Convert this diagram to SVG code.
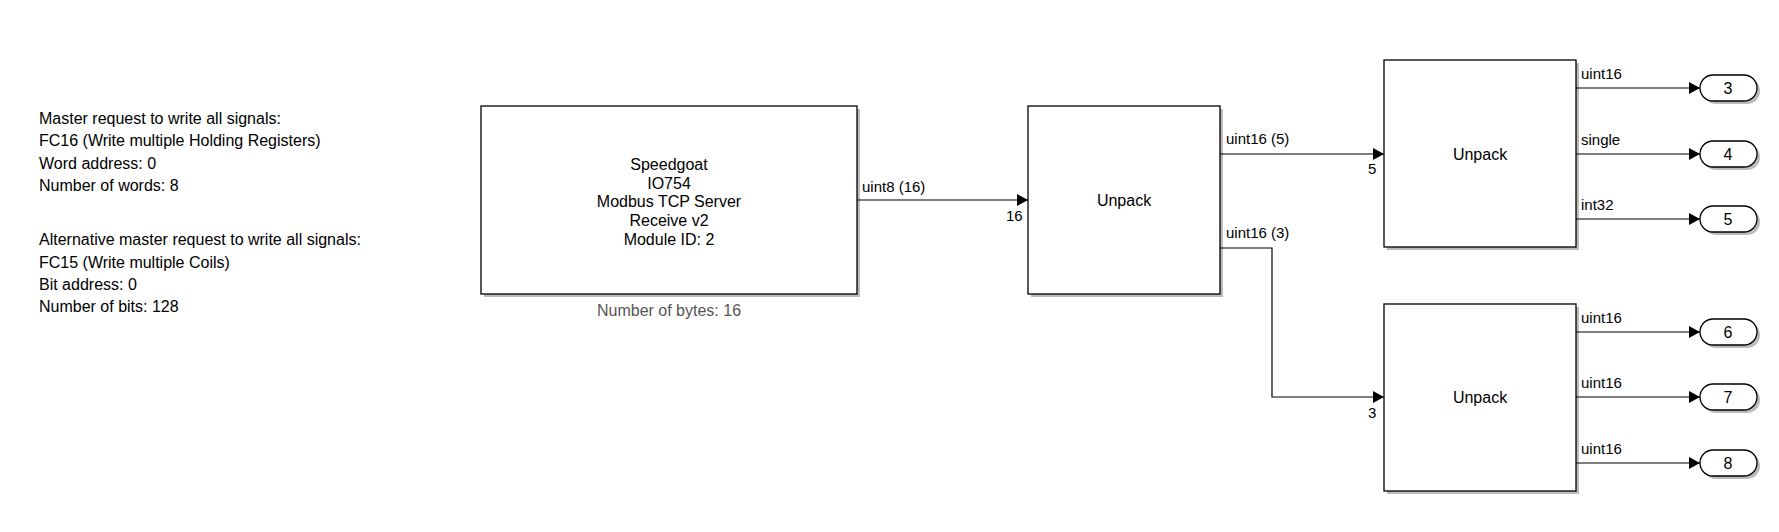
<svg xmlns="http://www.w3.org/2000/svg" width="1779" height="532" viewBox="0 0 1779 532">
<style>
text{font-family:"Liberation Sans",Arial,sans-serif;font-size:16px;fill:#000}
.blk{fill:#fff;stroke:#000;stroke-width:1.3}
.sh{fill:#bbb}
.c{text-anchor:middle}
.w{fill:none;stroke:#000;stroke-width:1.2}
.lb{font-size:15px}
</style>
<defs>
<marker id="ar" markerWidth="12" markerHeight="12" refX="11" refY="6" orient="auto" markerUnits="userSpaceOnUse">
<path d="M0,0 L11,6 L0,12 Z" fill="#000"/>
</marker>
</defs>
<rect width="1779" height="532" fill="#fff"/>
<g id="note">
<text x="39" y="124">Master request to write all signals:</text>
<text x="39" y="146">FC16 (Write multiple Holding Registers)</text>
<text x="39" y="169">Word address: 0</text>
<text x="39" y="191">Number of words: 8</text>
<text x="39" y="245">Alternative master request to write all signals:</text>
<text x="39" y="268">FC15 (Write multiple Coils)</text>
<text x="39" y="290">Bit address: 0</text>
<text x="39" y="312">Number of bits: 128</text>
</g>
<g id="speedgoat">
<rect class="sh" x="484" y="109" width="376" height="188"/>
<rect class="blk" x="481" y="106" width="376" height="188"/>
<text class="c" x="669" y="170">Speedgoat</text>
<text class="c" x="669" y="189">IO754</text>
<text class="c" x="669" y="207">Modbus TCP Server</text>
<text class="c" x="669" y="226">Receive v2</text>
<text class="c" x="669" y="245">Module ID: 2</text>
<text class="c" x="669" y="316" style="fill:#555">Number of bytes: 16</text>
</g>
<g id="unpack1">
<rect class="sh" x="1031" y="109" width="192" height="188"/>
<rect class="blk" x="1028" y="106" width="192" height="188"/>
<text class="c" x="1124" y="206">Unpack</text>
</g>
<g id="unpack2">
<rect class="sh" x="1387" y="63" width="192" height="187"/>
<rect class="blk" x="1384" y="60" width="192" height="187"/>
<text class="c" x="1480" y="160">Unpack</text>
</g>
<g id="unpack3">
<rect class="sh" x="1387" y="307" width="192" height="187"/>
<rect class="blk" x="1384" y="304" width="192" height="187"/>
<text class="c" x="1480" y="403">Unpack</text>
</g>
<g id="ports">
<g id="out3"><rect class="sh" x="1703" y="78" width="57" height="26" rx="13"/><rect class="blk" x="1700" y="75" width="57" height="26" rx="13"/><text class="c" x="1728" y="94">3</text></g>
<g id="out4"><rect class="sh" x="1703" y="144" width="57" height="26" rx="13"/><rect class="blk" x="1700" y="141" width="57" height="26" rx="13"/><text class="c" x="1728" y="160">4</text></g>
<g id="out5"><rect class="sh" x="1703" y="209" width="57" height="26" rx="13"/><rect class="blk" x="1700" y="206" width="57" height="26" rx="13"/><text class="c" x="1728" y="225">5</text></g>
<g id="out6"><rect class="sh" x="1703" y="322" width="57" height="26" rx="13"/><rect class="blk" x="1700" y="319" width="57" height="26" rx="13"/><text class="c" x="1728" y="338">6</text></g>
<g id="out7"><rect class="sh" x="1703" y="387" width="57" height="26" rx="13"/><rect class="blk" x="1700" y="384" width="57" height="26" rx="13"/><text class="c" x="1728" y="403">7</text></g>
<g id="out8"><rect class="sh" x="1703" y="453" width="57" height="26" rx="13"/><rect class="blk" x="1700" y="450" width="57" height="26" rx="13"/><text class="c" x="1728" y="469">8</text></g>
</g>
<g id="connectors">
<path class="w" d="M857,200 H1028" marker-end="url(#ar)"/>
<path class="w" d="M1220,154 H1384" marker-end="url(#ar)"/>
<path class="w" d="M1220,248 H1272 V397 H1384" marker-end="url(#ar)"/>
<path class="w" d="M1576,88 H1700" marker-end="url(#ar)"/>
<path class="w" d="M1576,154 H1700" marker-end="url(#ar)"/>
<path class="w" d="M1576,219 H1700" marker-end="url(#ar)"/>
<path class="w" d="M1576,332 H1700" marker-end="url(#ar)"/>
<path class="w" d="M1576,397 H1700" marker-end="url(#ar)"/>
<path class="w" d="M1576,463 H1700" marker-end="url(#ar)"/>
<text class="lb" x="862" y="192">uint8 (16)</text>
<text class="lb" x="1006" y="221">16</text>
<text class="lb" x="1226" y="144">uint16 (5)</text>
<text class="lb" x="1368" y="174">5</text>
<text class="lb" x="1226" y="238">uint16 (3)</text>
<text class="lb" x="1368" y="418">3</text>
<text class="lb" x="1581" y="79">uint16</text>
<text class="lb" x="1581" y="145">single</text>
<text class="lb" x="1581" y="210">int32</text>
<text class="lb" x="1581" y="323">uint16</text>
<text class="lb" x="1581" y="388">uint16</text>
<text class="lb" x="1581" y="454">uint16</text>
</g>
</svg>
